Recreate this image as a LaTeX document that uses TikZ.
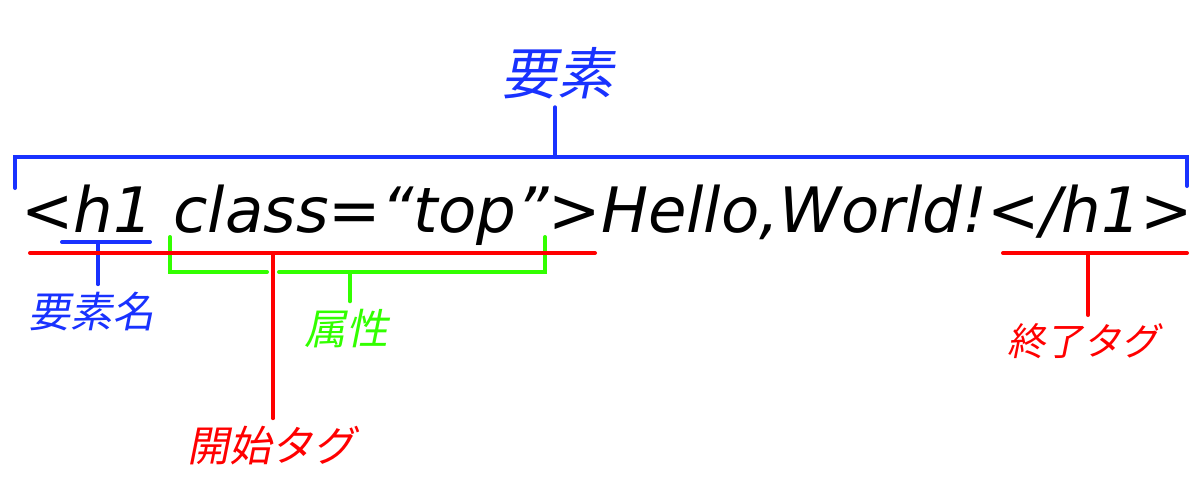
\documentclass[tikz,border=0pt]{standalone}
\usepackage{fontspec}
\setmainfont{DejaVu Sans}
\newfontfamily\jpfont{Noto Sans CJK JP}[FakeSlant=0.2]
\usetikzlibrary{positioning,calc}
\definecolor{elemblue}{RGB}{25,50,255}
\definecolor{tagred}{RGB}{255,0,0}
\definecolor{attrgreen}{RGB}{50,255,0}

\begin{document}
\begin{tikzpicture}[
x=0.5pt,
y=-0.5pt,
code/.style={
inner sep=0pt,
anchor=base west,
font=\itshape\fontsize{31.3}{36}\selectfont
},
tagtext/.style={
inner sep=0pt,
font=\jpfont\fontsize{21}{24}\selectfont
},
bigtext/.style={
inner sep=0pt,
font=\jpfont\fontsize{28}{32}\selectfont
},
line/.style={
line width=2pt,
line cap=round
},
stem/.style={
line,
shorten >=4pt
}
]

\useasboundingbox (0,0) rectangle (1200,500);


% Source line

\node (html) [code] at (21,232)
{<h1 class=“top”>Hello,World!</h1>};


% Element

\node (element) [bigtext, text=elemblue] at (557,73) {要素};

\coordinate (elemL) at (15,188);
\coordinate (elemR) at (1187,186);
\coordinate (elemM) at (555,157);

\draw[line, elemblue] (elemL) -- (elemL |- elemM) -- (elemR |- elemM) -- (elemR);
\draw[stem, elemblue] (elemM) -- (elemM |- element.south);


% Element name

\node (elemname) [tagtext, text=elemblue] at (91,312) {要素名};

\coordinate (nameL) at (62,242);
\coordinate (nameR) at (150,242);
\coordinate (nameM) at (98,242);

\draw[line, elemblue] (nameL) -- (nameR);
\draw[stem, elemblue] (nameM) -- (nameM |- elemname.north);


% Attribute

\node (attr) [tagtext, text=attrgreen] at (346,329) {属性};

\coordinate (attrL) at (170,237);
\coordinate (attrR) at (545,237);
\coordinate (attrM) at (350,272);

\draw[line, attrgreen] (attrL) -- (attrL |- attrM) -- (267,272);
\draw[line, attrgreen] (279,272) -- (attrR |- attrM) -- (attrR);
\draw[stem, attrgreen] (attrM) -- (attrM |- attr.north);


% Start tag

\node (starttag) [tagtext, text=tagred] at (271,446) {開始タグ};

\coordinate (startL) at (30,253);
\coordinate (startR) at (595,253);
\coordinate (startM) at (273,253);

\draw[line, tagred] (startL) -- (startR);
\draw[stem, tagred] (startM) -- (startM |- starttag.north);


% End tag

\node (endtag) [tagtext, text=tagred, font=\jpfont\fontsize{19}{22}\selectfont] at (1083,341) {終了タグ};

\coordinate (endL) at (1003,253);
\coordinate (endR) at (1187,253);
\coordinate (endM) at (1088,253);

\draw[line, tagred] (endL) -- (endR);
\draw[stem, tagred] (endM) -- (endM |- endtag.north);


\end{tikzpicture}
\end{document}
